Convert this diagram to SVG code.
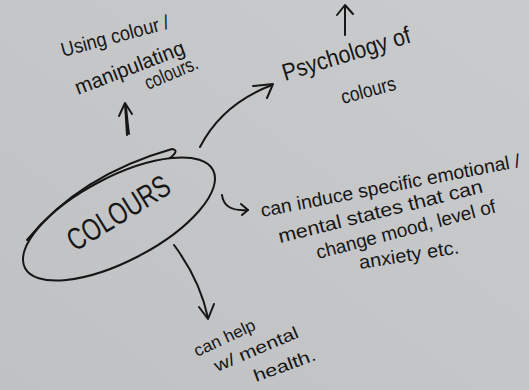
<svg xmlns="http://www.w3.org/2000/svg" width="529" height="390" viewBox="0 0 529 390">
  <defs>
    <linearGradient id="bg" x1="1" y1="0" x2="0" y2="1">
      <stop offset="0" stop-color="#cacbcc"/>
      <stop offset="1" stop-color="#bfc1c2"/>
    </linearGradient>
    <style>
      .t { font-family: "Liberation Sans", "DejaVu Sans", sans-serif; fill: #161616; }
      .s { fill: none; stroke: #161616; stroke-width: 2; stroke-linecap: round; stroke-linejoin: round; }
    </style>
  </defs>
  <rect width="529" height="390" fill="url(#bg)"/>

  <g id="connectors">
    <path class="s" d="M127 135 Q126 118 125 104 M129 134 Q127 118 126 106"/>
    <path class="s" d="M119 116 L125 103 L132 114"/>
    <path class="s" d="M200 147 Q222 104 272 85"/>
    <path class="s" d="M253 86 L273 84 L267 98"/>
    <path class="s" d="M345 35 L345 6"/>
    <path class="s" d="M337 15 L345 5 L353 14"/>
    <path class="s" d="M222 195 Q224 212 248 210"/>
    <path class="s" d="M241 204 L248 210 L242 215"/>
    <path class="s" d="M174 245 Q200 280 208 318"/>
    <path class="s" d="M199 307 L208 319 L214 304"/>
  </g>

  <g id="node-colours">
    <ellipse class="s" cx="119" cy="219" rx="106" ry="42" transform="rotate(-27.5 119 219)"/>
    <path class="s" d="M27 240 Q80 175 172 149 Q180 150 170 158"/>
    <text class="t" x="75" y="252" font-size="31" textLength="115" lengthAdjust="spacingAndGlyphs" transform="rotate(-31.5 75 252)">COLOURS</text>
  </g>

  <g id="node-using">
    <text class="t" x="63" y="57" font-size="20" textLength="111" lengthAdjust="spacingAndGlyphs" transform="rotate(-15 63 57)">Using colour /</text>
    <text class="t" x="78" y="95" font-size="21" textLength="116" lengthAdjust="spacingAndGlyphs" transform="rotate(-21 78 95)">manipulating</text>
    <text class="t" x="148" y="90" font-size="20" textLength="56" lengthAdjust="spacingAndGlyphs" transform="rotate(-23 148 90)">colours.</text>
  </g>

  <g id="node-psychology">
    <text class="t" x="285" y="81" font-size="24" textLength="133" lengthAdjust="spacingAndGlyphs" transform="rotate(-17 285 81)">Psychology of</text>
    <text class="t" x="343" y="104" font-size="20" textLength="56" lengthAdjust="spacingAndGlyphs" transform="rotate(-15 343 104)">colours</text>
  </g>

  <g id="node-induce">
    <text class="t" x="262" y="217" font-size="19" textLength="264" lengthAdjust="spacingAndGlyphs" transform="rotate(-11 262 217)">can induce specific emotional /</text>
    <text class="t" x="280" y="243" font-size="19" textLength="210" lengthAdjust="spacingAndGlyphs" transform="rotate(-14 280 243)">mental states that can</text>
    <text class="t" x="318" y="259" font-size="19" textLength="185" lengthAdjust="spacingAndGlyphs" transform="rotate(-14.7 318 259)">change mood, level of</text>
    <text class="t" x="360" y="269" font-size="19" textLength="101" lengthAdjust="spacingAndGlyphs" transform="rotate(-9 360 269)">anxiety etc.</text>
  </g>

  <g id="node-health">
    <text class="t" x="197" y="357" font-size="17" textLength="66" lengthAdjust="spacingAndGlyphs" transform="rotate(-25 197 357)">can help</text>
    <text class="t" x="217" y="372" font-size="17" textLength="90" lengthAdjust="spacingAndGlyphs" transform="rotate(-23 217 372)">w/ mental</text>
    <text class="t" x="256" y="382" font-size="17" textLength="65" lengthAdjust="spacingAndGlyphs" transform="rotate(-20 256 382)">health.</text>
  </g>
</svg>
